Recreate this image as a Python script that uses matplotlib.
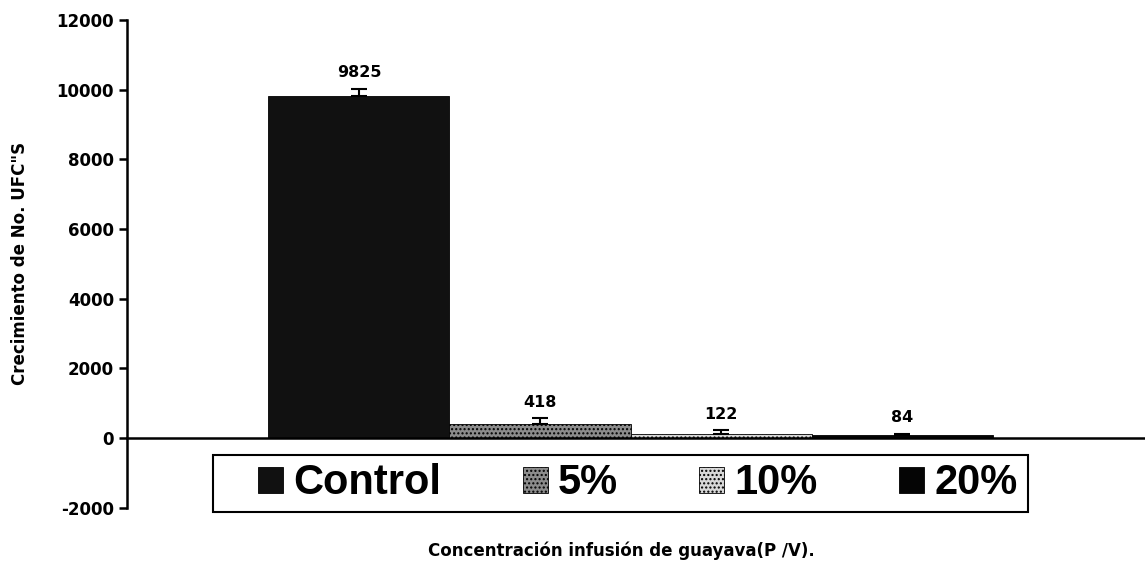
import numpy as np
import matplotlib
matplotlib.use("Agg")
import matplotlib.pyplot as plt
from matplotlib.patches import Patch, Rectangle

plt.rcParams['font.family'] = ['DejaVu Sans']
plt.rcParams['font.weight'] = 'bold'
plt.rcParams['axes.unicode_minus'] = False

# data
categories = ["Control", "5%", "10%", "20%"]
values = [9825, 418, 122, 84]
errors = [200, 150, 100, 40]
labels = ["9825", "418", "122", "84"]
face_colors = ["#111111", "#8c8c8c", "#d8d8d8", "#050505"]
hatches = [None, "....", "....", None]

fig = plt.figure(figsize=(11.45, 5.68), dpi=100)
ax = fig.add_axes([0.111, 0.106, 0.889, 0.859])

x = np.arange(len(categories))
for i in range(len(categories)):
    ax.bar(x[i], values[i], width=1.0, color=face_colors[i], edgecolor="black",
           linewidth=0.6, hatch=hatches[i], zorder=2)
ax.errorbar(x, values, yerr=[np.zeros(len(errors)), errors], fmt='none',
            ecolor='black', elinewidth=1.5, capsize=6, capthick=1.5, zorder=3)

for i in range(len(categories)):
    ax.annotate(labels[i], (x[i], values[i] + errors[i]), xytext=(0, 6),
                textcoords='offset points', ha='center', va='bottom',
                fontsize=11.5, fontweight='bold')

ax.set_xlim(-1.28, 4.34)
ax.set_ylim(-2000, 12000)
ax.set_yticks(np.arange(-2000, 12001, 2000))
ax.set_xticks([])

ax.spines['top'].set_visible(False)
ax.spines['right'].set_visible(False)
ax.spines['bottom'].set_position(('data', 0))
ax.spines['left'].set_linewidth(1.8)
ax.spines['bottom'].set_linewidth(1.8)
ax.tick_params(axis='y', direction='out', length=6, width=1.8, labelsize=12)
for t in ax.get_yticklabels():
    t.set_fontweight('bold')

ax.set_ylabel("Crecimiento de No. UFC\"S", fontsize=12, fontweight='bold')
ax.yaxis.set_label_coords(-0.096, 0.5)
fig.text(0.543, 0.03, "Concentración infusión de guayava(P /V).", ha='center', va='center',
         fontsize=12, fontweight='bold')

# legend: frame drawn separately, entries placed inside it
frame = Rectangle((213 / 1145, 1 - 512 / 568), 815 / 1145, 57 / 568,
                  transform=fig.transFigure, facecolor='white',
                  edgecolor='black', linewidth=1.5, zorder=4, clip_on=False)
ax.add_patch(frame)
handles = [Patch(facecolor=face_colors[i], edgecolor='black', linewidth=0.6, hatch=hatches[i])
           for i in range(len(categories))]
leg = ax.legend(handles, categories, loc='center left', ncol=4,
                bbox_to_anchor=(258 / 1145, 1 - 483.5 / 568), bbox_transform=fig.transFigure,
                borderaxespad=0, frameon=False,
                prop={'family': ['Liberation Sans', 'DejaVu Sans'], 'size': 30, 'weight': 'bold'},
                handlelength=0.6, handleheight=0.6, handletextpad=0.25,
                columnspacing=1.95, borderpad=0)
leg.set_zorder(5)

fig.savefig("out.png", dpi=100)
